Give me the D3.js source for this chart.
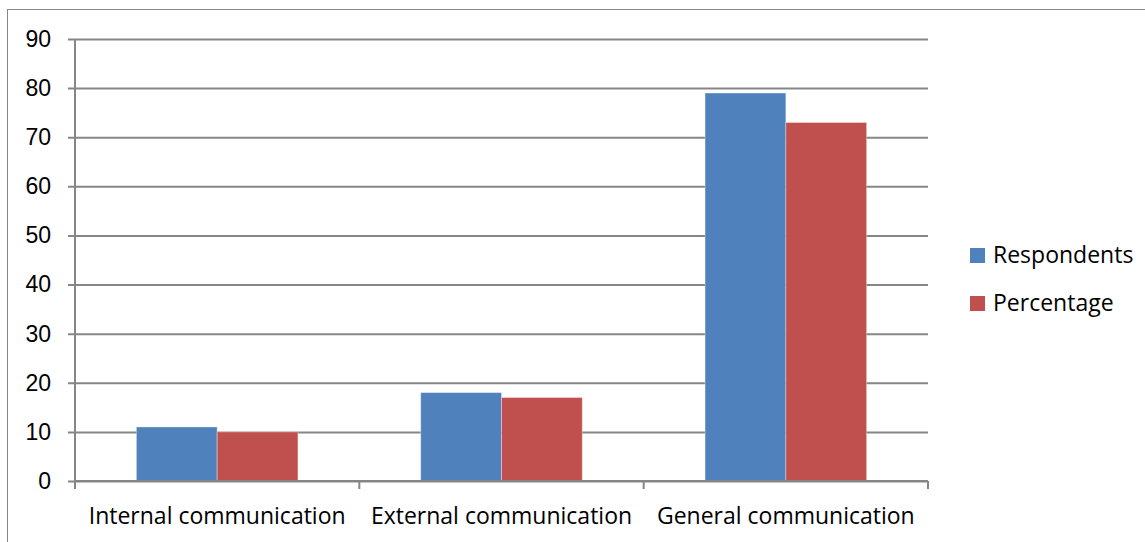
<!DOCTYPE html>
<html>
<head>
<meta charset="utf-8">
<script src="https://cdn.jsdelivr.net/npm/d3@7/dist/d3.min.js"></script>
<style>
  html, body { margin: 0; padding: 0; background: #fff; }
  svg { display: block; font-family: "Open Sans", "Noto Sans", sans-serif; }
</style>
</head>
<body>
<svg id="chart" width="1145" height="542"></svg>
<script>
// Survey results by communication type
const categories = ["Internal communication", "External communication", "General communication"];
const seriesNames = ["Respondents", "Percentage"];
const respondents = [11, 18, 79];
const percentage = [10, 17, 73];
const yTicks = [0, 10, 20, 30, 40, 50, 60, 70, 80, 90];

const colors = ["#4F81BD", "#C0504D"];
const gridColor = "#868686";
const fontSize = 23;

const svg = d3.select("#chart");
const W = 1145, H = 542;
const plot = { left: 75, right: 928, top: 39, bottom: 481 };

// outer frame
svg.append("rect")
  .attr("x", 7.5).attr("y", 9.5)
  .attr("width", W + 10).attr("height", H + 10)
  .attr("fill", "none").attr("stroke", gridColor).attr("stroke-width", 1);

const x0 = d3.scaleBand().domain(categories).range([plot.left, plot.right]).paddingInner(0).paddingOuter(0);
const x1 = d3.scaleBand().domain(seriesNames).range([0, x0.bandwidth()]).paddingInner(0).paddingOuter(0.76);
const y = d3.scaleLinear().domain([0, 90]).range([plot.bottom, plot.top]);

// horizontal gridlines with left tick marks
const yAxis = d3.axisLeft(y).tickValues(yTicks).tickSize(-(plot.right - plot.left)).tickSizeOuter(0).tickPadding(24);
const gy = svg.append("g").attr("transform", `translate(${plot.left},0)`).call(yAxis);
gy.select(".domain").remove();
gy.selectAll(".tick line").attr("stroke", gridColor).attr("stroke-width", 2).attr("x1", -7);
gy.selectAll(".tick text").attr("font-size", fontSize).attr("font-family", null).attr("fill", "#000");

// bars
const rows = categories.map((c, i) => ({ cat: c, vals: [respondents[i], percentage[i]] }));
const groups = svg.append("g").selectAll("g").data(rows).join("g")
  .attr("transform", d => `translate(${x0(d.cat)},0)`);
groups.selectAll("rect").data(d => d.vals.map((v, k) => ({ key: seriesNames[k], v, k })))
  .join("rect")
  .attr("x", d => x1(d.key))
  .attr("y", d => y(d.v))
  .attr("width", x1.bandwidth())
  .attr("height", d => y(0) - y(d.v))
  .attr("fill", d => colors[d.k])
  .attr("stroke", "rgba(255,255,255,0.35)")
  .attr("stroke-width", 1);

// vertical axis line
svg.append("line")
  .attr("x1", plot.left).attr("x2", plot.left)
  .attr("y1", plot.top).attr("y2", plot.bottom + 8)
  .attr("stroke", gridColor).attr("stroke-width", 2);

// category axis with boundary ticks
svg.append("line")
  .attr("x1", plot.left).attr("x2", plot.right)
  .attr("y1", plot.bottom).attr("y2", plot.bottom)
  .attr("stroke", gridColor).attr("stroke-width", 2);
const bounds = categories.map(c => x0(c)).concat([plot.right]);
svg.append("g").selectAll("line").data(bounds).join("line")
  .attr("x1", d => d).attr("x2", d => d)
  .attr("y1", plot.bottom).attr("y2", plot.bottom + 8)
  .attr("stroke", gridColor).attr("stroke-width", 2);
svg.append("g").selectAll("text").data(categories).join("text")
  .attr("x", d => x0(d) + x0.bandwidth() / 2)
  .attr("y", 524)
  .attr("text-anchor", "middle")
  .attr("font-size", fontSize)
  .attr("fill", "#000")
  .text(d => d);

// legend
const legend = svg.append("g").selectAll("g").data(seriesNames).join("g")
  .attr("transform", (d, i) => `translate(970,${248 + i * 48})`);
legend.append("rect").attr("width", 15).attr("height", 15).attr("fill", (d, i) => colors[i]);
legend.append("text").attr("x", 23).attr("y", 15).attr("font-size", fontSize).attr("fill", "#000").text(d => d);
</script>
</body>
</html>
